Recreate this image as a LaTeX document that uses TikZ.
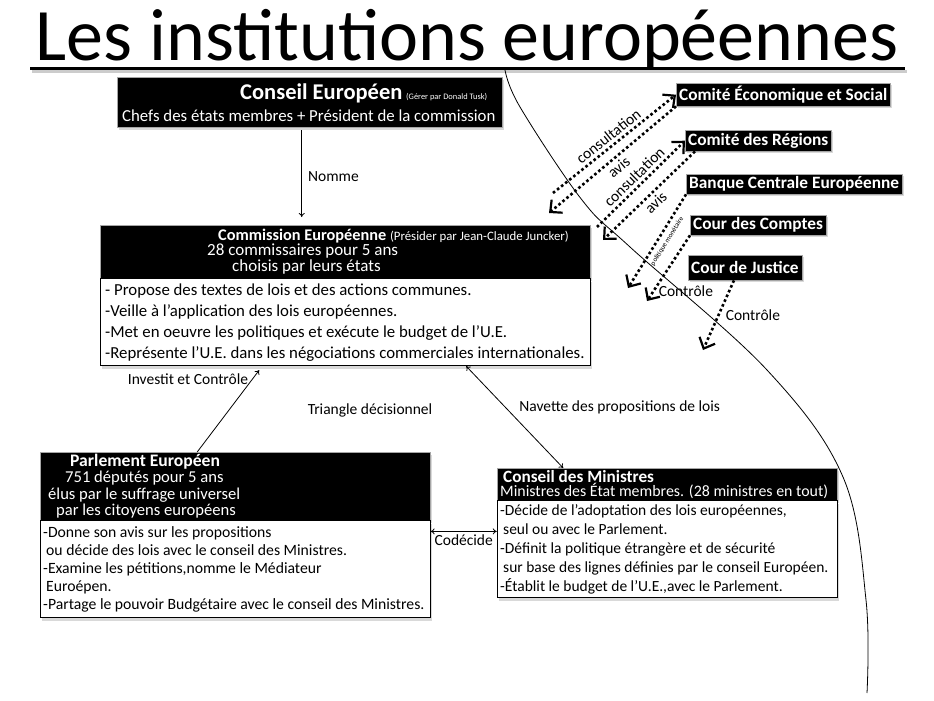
\documentclass[tikz,border=0pt]{standalone}
\usepackage{fontspec}
\setmainfont{Carlito}
\usetikzlibrary{positioning, arrows.meta, shadows}
\tikzset{
  header/.style = {
    rectangle, draw=gray!70, fill=black, text=white,
    align=flush left, inner xsep=3pt, inner ysep=1pt,
    drop shadow={shadow xshift=2pt, shadow yshift=-3pt, opacity=0.3},
  },
  body/.style = {
    rectangle, draw, fill=white, line width=0.8pt,
    align=flush left, inner xsep=3pt, inner ysep=1pt,
    drop shadow={shadow xshift=2pt, shadow yshift=-3pt, opacity=0.3},
  },
  organ/.style = {
    rectangle, draw=gray!70, fill=black, text=white, anchor=north west,
    inner xsep=3pt, inner ysep=0pt,
    font=\bfseries\fontsize{17.3}{17}\selectfont,
    drop shadow={shadow xshift=2pt, shadow yshift=-2pt, opacity=0.3},
  },
  lbl/.style = {font=\fontsize{15.5}{15}\selectfont, inner sep=2pt},
  arrow/.style = {line width=0.8pt, -{To[length=4pt, width=6pt]}},
  twoway/.style = {line width=0.8pt, {To[length=4pt, width=6pt]}-{To[length=4pt, width=6pt]}},
  dotarrow/.style = {
    line width=2.6pt, dash pattern=on 2.6pt off 2.6pt,
    -{Straight Barb[length=9pt, width=17pt, line width=2.2pt]},
  },
}

\begin{document}
\begin{tikzpicture}[x=1pt, y=-1pt]
    \useasboundingbox (0,0) rectangle (934,701);

    % --- Title ---
    \node[font=\fontsize{74}{74}\selectfont, inner sep=0pt, anchor=base] (title) at (467,61)
      {Les institutions européennes};
    \draw[line width=3pt, gray!40] (32,72) -- (907,72);
    \draw[line width=3pt] (30,69) -- (905,69);

    % separating curve
    \draw[line width=0.8pt] plot[smooth, tension=0.6] coordinates
      {(505,70) (520,107) (582,200) (630,247) (767,370) (843,477) (866,600) (867,693)};

    % --- Nodes ---
    \node[header, anchor=north west, text width=379pt, minimum height=50pt,
          font=\fontsize{16.8}{22}\selectfont] (ce) at (117,77)
      {\hspace*{120pt}{\bfseries\fontsize{22.5}{15}\selectfont Conseil Européen}
       {\fontsize{8.4}{9}\selectfont (Gérer par Donald Tusk)}\\
       \hspace*{2pt}Chefs des états membres + Président de la commission};

    \node[header, anchor=north west, text width=484pt, minimum height=53pt,
          font=\fontsize{17}{14}\selectfont] (comh) at (100,225)
      {\hspace*{115pt}{\bfseries\fontsize{16.3}{15}\selectfont Commission Européenne}
       {\fontsize{12.8}{9}\selectfont (Présider par Jean-Claude Juncker)}\\
       \hspace*{104pt}28 commissaires pour 5 ans\\
       \hspace*{129pt}choisis par leurs états};
    \node[body, below=0pt of comh, text width=484pt, minimum height=87pt,
          font=\fontsize{16.8}{21}\selectfont] (comb)
      {\hspace*{2pt}- Propose des textes de lois et des actions communes.\\
       \hspace*{2pt}-Veille à l'application des lois européennes.\\
       \hspace*{2pt}-Met en oeuvre les politiques et exécute le budget de l'U.E.\\
       \hspace*{2pt}-Représente l'U.E. dans les négociations commerciales internationales.};

    \node[header, anchor=north west, text width=384pt, minimum height=68pt,
          font=\fontsize{16.6}{16.6}\selectfont] (parh) at (40,452)
      {\hspace*{27pt}{\bfseries\fontsize{17.6}{15}\selectfont Parlement Européen}\\
       \hspace*{22pt}751 députés pour 5 ans\\
       \hspace*{5pt}élus par le suffrage universel\\
       \hspace*{13pt}par les citoyens européens};
    \node[body, below=0pt of parh, text width=384pt, minimum height=97pt,
          font=\fontsize{15.7}{18}\selectfont] (parb)
      {-Donne son avis sur les propositions\\
       \hspace*{3pt}ou décide des lois avec le conseil des Ministres.\\
       -Examine les pétitions,nomme le Médiateur\\
       \hspace*{3pt}Euroépen.\\
       -Partage le pouvoir Budgétaire avec le conseil des Ministres.};

    \node[header, anchor=north west, text width=334pt, minimum height=32pt,
          font=\fontsize{15.9}{14}\selectfont] (minh) at (497,468)
      {\hspace*{3pt}{\bfseries\fontsize{17.2}{15}\selectfont Conseil des Ministres}\\
       Ministres des État membres. (28 ministres en tout)};
    \node[body, below=0pt of minh, text width=334pt, minimum height=97pt,
          font=\fontsize{15.5}{19}\selectfont] (minb)
      {-Décide de l'adoptation des lois européennes,\\
       \hspace*{3pt}seul ou avec le Parlement.\\
       -Définit la politique étrangère et de sécurité\\
       \hspace*{3pt}sur base des lignes définies par le conseil Européen.\\
       -Établit le budget de l'U.E.,avec le Parlement.};

    % consultative and control bodies
    \node[organ, minimum height=23pt] (ces) at (676,83) {Comité Économique et Social};
    \node[organ, minimum height=21pt] (cdr) at (685,130) {Comité des Régions};
    \node[organ, minimum height=20pt] (bce) at (686,174) {Banque Centrale Européenne};
    \node[organ, minimum height=20pt] (cdc) at (690,215) {Cour des Comptes};
    \node[organ, minimum height=25pt] (cdj) at (688,255) {Cour de Justice};

    \node[lbl] (tri) at (370,410) {Triangle décisionnel};

    % free ends of the dotted arrows
    \coordinate (c1) at (553,193);
    \coordinate (a1) at (549,213);
    \coordinate (c2) at (597,227);
    \coordinate (a2) at (603,240);
    \coordinate (pm) at (628,288);
    \coordinate (k1) at (647,301);
    \coordinate (k2) at (703,350);

    % --- Arrows ---
    \draw[arrow, shorten <=3pt, shorten >=8pt] ([xshift=-8pt]ce.south)
      -- node[lbl, right=4pt] {Nomme} ([xshift=-8pt]ce.south |- comh.north);
    \draw[arrow, shorten >=5pt] ([xshift=-38pt]parh.north)
      -- node[lbl, pos=0.85, left=2pt] {Investit et Contrôle} ([xshift=-83pt]comb.south);
    \draw[twoway] ([xshift=121pt]comb.south)
      -- node[lbl, pos=0.4, right=12pt] {Navette des propositions de lois} ([xshift=-104pt]minh.north);
    \draw[twoway] ([yshift=-11pt]parb.north east)
      -- node[lbl, below=1pt] {Codécide} ([yshift=-11pt]parb.north east -| minb.west);

    \draw[dotarrow] (c1) -- node[lbl, sloped, above=1pt] {consultation} (ces.west);
    \draw[dotarrow] (ces.south west) -- node[lbl, sloped, below=1pt] {avis} (a1);
    \draw[dotarrow] (c2) -- node[lbl, sloped, above=1pt] {consultation} (cdr.west);
    \draw[dotarrow] ([xshift=10pt]cdr.south west) -- node[lbl, sloped, below=1pt] {avis} (a2);
    \draw[dotarrow] (bce.south west)
      -- node[sloped, below=1pt, font=\fontsize{7}{7}\selectfont, pos=0.45] {politique monétaire} (pm);
    \draw[dotarrow] (cdc.south west) -- node[lbl, pos=0.85, right=2pt] {Contrôle} (k1);
    \draw[dotarrow] ([xshift=-11pt]cdj.south) -- node[lbl, pos=0.5, right=4pt] {Contrôle} (k2);
\end{tikzpicture}
\end{document}
